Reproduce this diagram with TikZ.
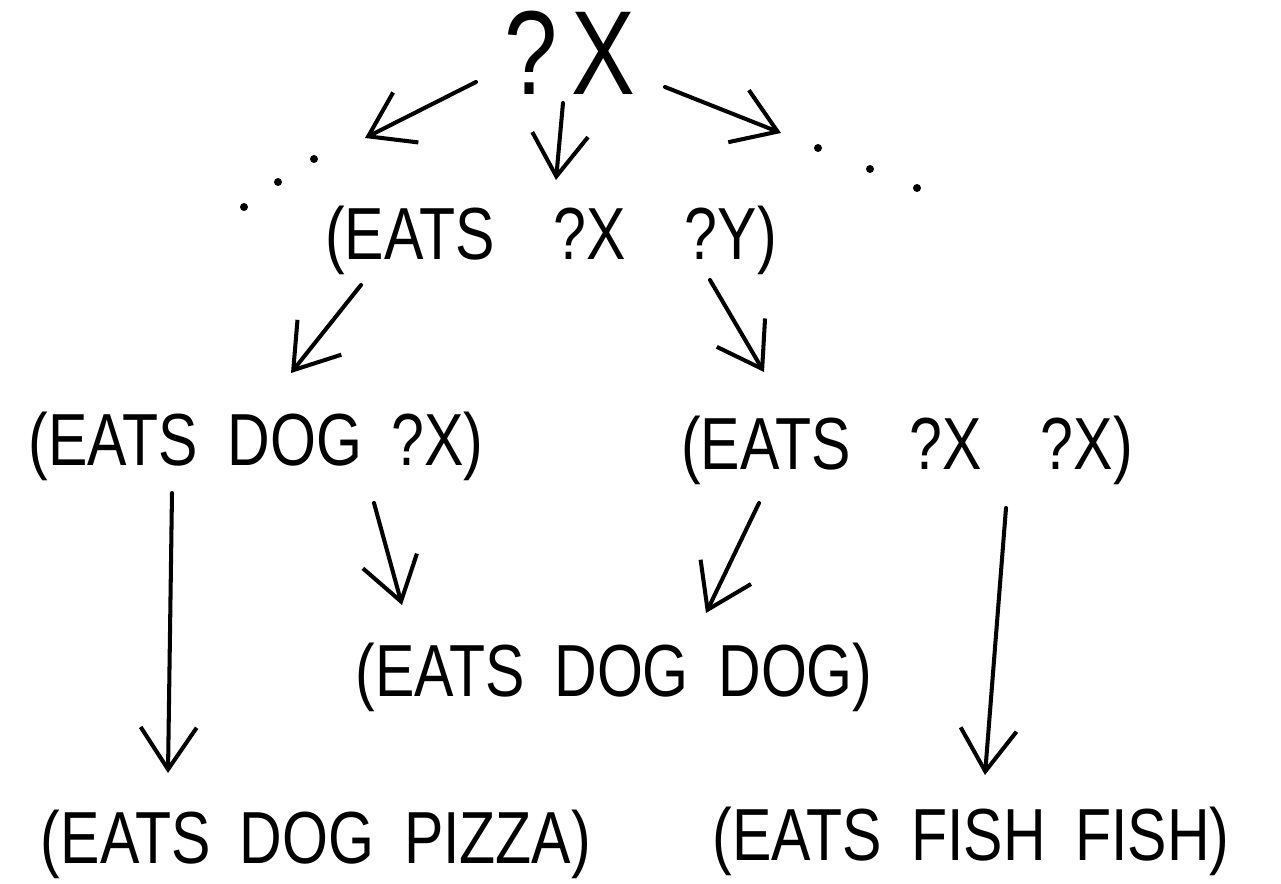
\documentclass[tikz,border=0pt]{standalone}
\usepackage{fontspec}
\setmainfont{Liberation Sans}[FakeStretch=0.8,WordSpace=1.8]
\usetikzlibrary{arrows.meta}

\begin{document}
\begin{tikzpicture}[x=1cm,y=1cm,
  term/.style={anchor=base,inner sep=0pt,font=\fontsize{21}{25}\selectfont},
  link/.style={line width=1.15pt,line cap=round,line join=round,
    -{Straight Barb[length=4.2mm,width=5.6mm]}}]
  \path[use as bounding box] (0,0) rectangle (12.81,-8.84);

  % Terms, placed on their baselines.
  \node[term,font=\fontsize{34}{40}\selectfont] (query) at (5.70,-0.95) {?\kern0.12em X};
  \node[term] (xy) at (5.51,-2.60) {(EATS\ \ ?X\ \ ?Y)};
  \node[term] (dogx) at (2.56,-4.66) {(EATS DOG ?X)};
  \node[term] (xx) at (9.07,-4.70) {(EATS\ \ ?X\ \ ?X)};
  \node[term] (dogdog) at (6.14,-6.97) {(EATS DOG DOG)};
  \node[term] (pizza) at (3.16,-8.64) {(EATS DOG PIZZA)};
  \node[term] (fish) at (9.71,-8.60) {(EATS\ FISH FISH)};

  % Open ends of the outer branches.
  \coordinate (leftend) at (3.65,-1.38);
  \coordinate (rightend) at (7.81,-1.33);
  \foreach \p in {(3.14,-1.59),(2.78,-1.82),(2.44,-2.07),
                  (8.18,-1.48),(8.70,-1.69),(9.17,-1.88)}
    \fill \p circle[radius=0.04];

  % Specialisation links.
  \draw[link] ([shift={(-0.94,0.13)}]query.base) -- (leftend);
  \draw[link] ([shift={(-0.07,-0.08)}]query.base) -- ([shift={(0.05,0.80)}]xy.base);
  \draw[link] ([shift={(0.95,0.08)}]query.base) -- (rightend);
  \draw[link] ([shift={(-1.90,-0.25)}]xy.base) -- ([shift={(0.35,0.93)}]dogx.base);
  \draw[link] ([shift={(1.59,-0.20)}]xy.base) -- ([shift={(-1.43,0.98)}]xx.base);
  \draw[link] ([shift={(-0.84,-0.27)}]dogx.base) -- ([shift={(-1.48,0.91)}]pizza.base);
  \draw[link] ([shift={(1.18,-0.37)}]dogx.base) -- ([shift={(-2.12,0.92)}]dogdog.base);
  \draw[link] ([shift={(-1.48,-0.33)}]xx.base) -- ([shift={(0.92,0.84)}]dogdog.base);
  \draw[link] ([shift={(0.99,-0.38)}]xx.base) -- ([shift={(0.14,0.85)}]fish.base);
\end{tikzpicture}
\end{document}
